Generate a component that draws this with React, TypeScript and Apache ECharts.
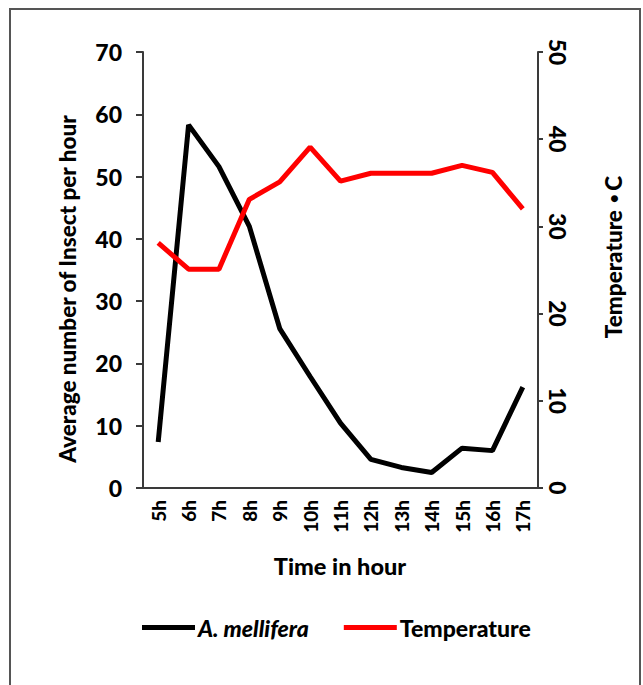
import React, { useEffect, useRef } from 'react';
import * as echarts from 'echarts';

const hours = ['5h', '6h', '7h', '8h', '9h', '10h', '11h', '12h', '13h', '14h', '15h', '16h', '17h'];
const mellifera = [7.4, 58.3, 51.6, 42.0, 25.6, 17.9, 10.4, 4.6, 3.3, 2.5, 6.4, 6.0, 16.2];
const temperature = [28.1, 25.1, 25.1, 33.1, 35.1, 39.1, 35.2, 36.1, 36.1, 36.1, 37.0, 36.2, 32.0];
const seriesNames = ['A. mellifera', 'Temperature'];
const leftAxisName = 'Average number of Insect per hour';
const rightAxisNameParts = ['Temperature', '\u2022', 'C'];
const xAxisName = 'Time in hour';

const FONT = 'Lato, "Open Sans", sans-serif';
const W = 900;

export default function App() {
  const ref = useRef<HTMLDivElement>(null);
  useEffect(() => {
    if (!ref.current) return;
    const chart = echarts.init(ref.current, null, { renderer: 'svg' });
    const axisColor = '#3a3a3a';
    chart.setOption({
      animation: false,
      backgroundColor: '#ffffff',
      grid: { left: 143, right: 105, top: 52, bottom: 197, containLabel: false },
      xAxis: {
        type: 'category',
        data: hours,
        boundaryGap: true,
        axisLine: { lineStyle: { color: axisColor, width: 2 } },
        axisTick: { show: false },
        axisLabel: {
          rotate: 90,
          margin: 12,
          color: '#000',
          fontFamily: FONT,
          fontWeight: W,
          fontSize: 19,
        },
        splitLine: { show: false },
      },
      yAxis: [
        {
          type: 'value',
          min: 0,
          max: 70,
          interval: 10,
          position: 'left',
          axisLine: { show: true, lineStyle: { color: axisColor, width: 2 } },
          axisTick: { show: true, length: 7, lineStyle: { color: axisColor, width: 2 } },
          axisLabel: {
            margin: 21,
            color: '#000',
            fontFamily: FONT,
            fontWeight: W,
            fontSize: 23,
          },
          splitLine: { show: false },
        },
        {
          type: 'value',
          min: 0,
          max: 50,
          interval: 10,
          position: 'right',
          axisLine: { show: true, lineStyle: { color: axisColor, width: 2 } },
          axisTick: { show: true, length: 5, lineStyle: { color: axisColor, width: 2 } },
          axisLabel: {
            rotate: -90,
            align: 'center',
            verticalAlign: 'bottom',
            margin: 8,
            color: '#000',
            fontFamily: FONT,
            fontWeight: W,
            fontSize: 23,
          },
          splitLine: { show: false },
        },
      ],
      legend: {
        data: seriesNames,
        left: 137,
        top: 611,
        icon: 'rect',
        itemWidth: 53,
        itemHeight: 5,
        itemGap: 35,
        formatter: (name: string) => (name === seriesNames[0] ? `{i|${name}}` : `{n|${name}}`),
        textStyle: {
          color: '#000',
          fontFamily: FONT,
          fontWeight: W,
          fontSize: 23,
          padding: [0, 0, 0, -2],
          rich: {
            i: { fontStyle: 'italic', fontWeight: W, fontSize: 23, fontFamily: FONT, color: '#000' },
            n: { fontWeight: W, fontSize: 23, fontFamily: FONT, color: '#000' },
          },
        },
      },
      series: [
        {
          name: seriesNames[0],
          type: 'line',
          yAxisIndex: 0,
          data: mellifera,
          showSymbol: false,
          symbol: 'none',
          lineStyle: { color: '#000000', width: 5 },
          itemStyle: { color: '#000000' },
        },
        {
          name: seriesNames[1],
          type: 'line',
          yAxisIndex: 1,
          data: temperature,
          showSymbol: false,
          symbol: 'none',
          lineStyle: { color: '#ff0000', width: 5 },
          itemStyle: { color: '#ff0000' },
        },
      ],
      graphic: [
        {
          type: 'rect',
          shape: { x: 10, y: 9, width: 630, height: 720 },
          style: { fill: 'none', stroke: '#555555', lineWidth: 2 },
          silent: true,
        },
        {
          type: 'text',
          x: 67,
          y: 289,
          rotation: Math.PI / 2,
          style: {
            text: leftAxisName,
            fill: '#000',
            font: `${W} 22.5px ${FONT}`,
            align: 'center',
            verticalAlign: 'middle',
          },
        },
        {
          type: 'text',
          x: 613,
          y: 257,
          rotation: Math.PI / 2,
          style: {
            text: `{a|${rightAxisNameParts[0]}}{b|  ${rightAxisNameParts[1]} }{a|${rightAxisNameParts[2]}}`,
            fill: '#000',
            font: `${W} 22.5px ${FONT}`,
            align: 'center',
            verticalAlign: 'middle',
            rich: {
              a: { fontFamily: FONT, fontWeight: W, fontSize: 22.5, fill: '#000' },
              b: { fontFamily: FONT, fontWeight: W, fontSize: 15, fill: '#000' },
            },
          },
        },
        {
          type: 'text',
          x: 340,
          y: 566,
          style: {
            text: xAxisName,
            fill: '#000',
            font: `${W} 23.5px ${FONT}`,
            align: 'center',
            verticalAlign: 'middle',
          },
        },
      ],
    });
    return () => chart.dispose();
  }, []);
  return (
    <div
      ref={ref}
      style={{ position: 'fixed', left: 0, top: 0, width: 643, height: 685, background: '#fff' }}
    />
  );
}
